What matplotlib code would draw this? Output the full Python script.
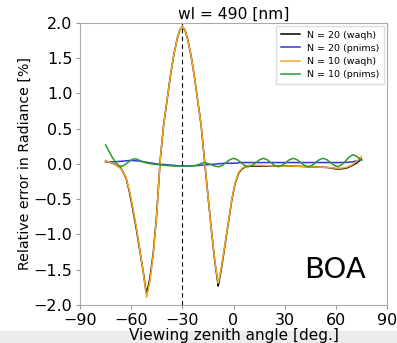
import matplotlib
matplotlib.use('Agg')
from matplotlib import pyplot as plt
import matplotlib.patches as mpatches

# angles used for the waqh runs
ang_waqh = [-75, -72, -69, -66, -63, -61, -59, -57, -55, -53, -51.5, -51, -50.5,
            -49, -47, -45, -43, -41, -39, -37, -35, -33, -31.5, -30, -28.5, -27,
            -25, -23, -21, -19, -17, -15, -13, -11, -9.5, -9, -8.5, -7, -5, -3,
            -1, 1, 3, 5, 7, 9, 12, 15, 25, 35, 45, 55, 60, 63, 66, 69, 72, 75]
n20_waqh = [0.04, 0.02, -0.01, -0.06, -0.20,
            -0.40, -0.65, -0.92, -1.22, -1.52,
            -1.77, -1.83, -1.79, -1.62, -1.25,
            -0.70, 0.05, 0.55, 0.90, 1.25,
            1.55, 1.78, 1.90, 1.95, 1.90,
            1.78, 1.55, 1.25, 0.90, 0.55,
            0.05, -0.45, -0.93, -1.38, -1.64,
            -1.73, -1.67, -1.47, -1.15, -0.83,
            -0.51, -0.27, -0.13, -0.07, -0.04,
            -0.03, -0.03, -0.03, -0.03, -0.03,
            -0.04, -0.05, -0.07, -0.07, -0.06,
            -0.03, 0.01, 0.07]
n10_waqh = [0.04, 0.02, -0.01, -0.07, -0.19,
            -0.38, -0.62, -0.89, -1.20, -1.53,
            -1.80, -1.89, -1.84, -1.66, -1.27,
            -0.71, 0.05, 0.55, 0.90, 1.25,
            1.55, 1.78, 1.90, 1.95, 1.90,
            1.78, 1.55, 1.25, 0.90, 0.55,
            0.05, -0.45, -0.93, -1.36, -1.62,
            -1.69, -1.64, -1.45, -1.13, -0.82,
            -0.50, -0.26, -0.12, -0.06, -0.035,
            -0.02, -0.02, -0.02, -0.03, -0.03,
            -0.04, -0.05, -0.06, -0.06, -0.05,
            -0.02, 0.03, 0.11]

ang_n20p = [-75, -70, -65, -60, -55, -50, -45, -40, -35, -30, -25, -20, -15, -10,
            -5, 0, 5, 10, 15, 20, 25, 30, 35, 40, 45, 50, 55, 60, 65, 70, 75]
n20_pnims = [0.03, 0.03, 0.04, 0.05, 0.04, 0.02, 0.0, -0.01, -0.02, -0.03, -0.03,
             -0.02, -0.01, 0.0, 0.01, 0.01, 0.02, 0.02, 0.02, 0.02, 0.02, 0.02,
             0.02, 0.02, 0.02, 0.02, 0.02, 0.02, 0.02, 0.03, 0.06]

ang_n10p = [-75, -73, -71, -69, -67, -65, -63, -61, -59, -57, -55, -52, -48, -44,
            -40, -35, -30, -25, -21.9, -19.7, -17.5, -15.3, -13.1, -11, -8.75,
            -6.5, -4.4, -2.2, 0, 2.2, 4.4, 6.5, 8.75, 11, 13.1, 15.3, 17.5, 19.7,
            21.9, 24, 26.25, 28.4, 30.6, 32.8, 35, 37.2, 39.4, 41.6, 43.75, 46,
            48.1, 50.3, 52.5, 54.7, 56.9, 59, 61.25, 63.4, 65.6, 67.8, 70, 72.2, 75]
n10_pnims = [0.27, 0.18, 0.09, 0.02, -0.03, -0.03, 0.0, 0.04, 0.07, 0.07, 0.05,
             0.02, 0.0, -0.01, -0.02, -0.03, -0.03, -0.03, -0.02, 0.0, 0.02, 0.01,
             -0.01, -0.03, -0.04, -0.02, 0.02, 0.06, 0.08, 0.06, 0.02, -0.02, -0.04,
             -0.02, 0.02, 0.06, 0.08, 0.06, 0.02, -0.02, -0.04, -0.02, 0.02, 0.06,
             0.08, 0.06, 0.02, -0.02, -0.04, -0.02, 0.02, 0.06, 0.08, 0.06, 0.02,
             -0.02, -0.04, -0.01, 0.04, 0.10, 0.13, 0.11, 0.05]

fig = plt.figure(figsize=(3.97, 3.43), dpi=100)
ax = fig.add_axes([0.2015, 0.111, 0.7735, 0.822])

# grey strip at the bottom of the screenshot
fig.patches.append(mpatches.Rectangle((0, 0), 1, 0.035, transform=fig.transFigure,
                                      color='#ececec', zorder=-1))

ax.plot(ang_waqh, n20_waqh, color='k', lw=1.1, label='N = 20 (waqh)')
ax.plot(ang_n20p, n20_pnims, color='#3535d8', lw=1.1, label='N = 20 (pnims)')
ax.plot(ang_waqh, n10_waqh, color='#f5a623', lw=1.1, label='N = 10 (waqh)')
ax.plot(ang_n10p, n10_pnims, color='#2e9a2e', lw=1.1, label='N = 10 (pnims)')
ax.axvline(-30, color='k', ls='--', lw=0.8, dashes=(4, 3))

ax.set_xlim(-90, 90)
ax.set_ylim(-2.0, 2.0)
ax.set_xticks([-90, -60, -30, 0, 30, 60, 90])
ax.set_yticks([-2.0, -1.5, -1.0, -0.5, 0.0, 0.5, 1.0, 1.5, 2.0])
ax.tick_params(labelsize=11.5, color='#999999', length=3, pad=2.5)
for s in ax.spines.values():
    s.set_color('#aaaaaa')

ax.set_xlabel('Viewing zenith angle [deg.]', fontsize=11)
ax.set_ylabel('Relative error in Radiance [%]', fontsize=10.2)
ax.xaxis.set_label_coords(0.5, -0.083)
ax.yaxis.set_label_coords(-0.158, 0.5)
ax.set_title('wl = 490 [nm]', fontsize=11.2, pad=3)
ax.text(0.73, 0.095, 'BOA', transform=ax.transAxes, fontsize=21)

ax.legend(loc='upper right', fontsize=6.8, handlelength=2.0, handletextpad=0.8,
          borderpad=0.5, labelspacing=0.45, framealpha=1, edgecolor='#dddddd',
          fancybox=False, borderaxespad=0.3)

plt.savefig('out.png', dpi=100)
